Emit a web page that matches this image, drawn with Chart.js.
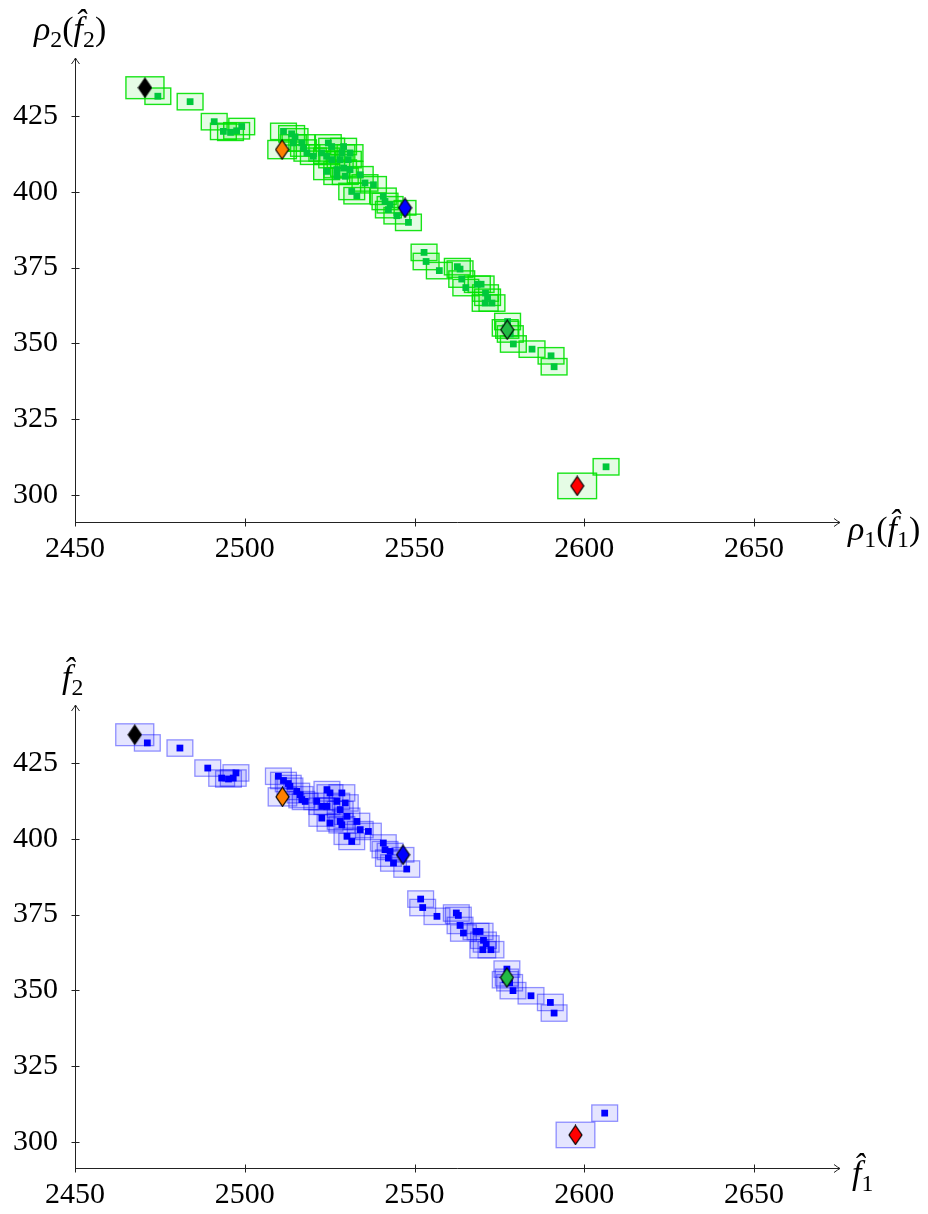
<!DOCTYPE html>
<html><head><meta charset="utf-8">
<script src="https://cdn.jsdelivr.net/npm/chart.js@4/dist/chart.umd.min.js"></script>
<style>
html,body{margin:0;padding:0;background:#fff;}
#wrap{position:relative;width:928px;height:1214px;overflow:hidden;}
canvas{position:absolute;left:0;}
#c1{top:0}
#c2{top:607px}
.lbl{position:absolute;font-family:"Liberation Serif",serif;font-size:34px;color:#000;white-space:nowrap;line-height:1;}
.lbl i{font-style:italic}
.lbl sub{font-size:0.7em;vertical-align:-0.28em;line-height:0}
</style></head>
<body><div id="wrap">
<canvas id="c1" width="928" height="607"></canvas>
<canvas id="c2" width="928" height="607"></canvas>
<div class="lbl" style="left:34px;top:12px"><i>ρ</i><sub>2</sub>(<i>f̂</i><sub>2</sub>)</div>
<div class="lbl" style="left:848px;top:512px"><i>ρ</i><sub>1</sub>(<i>f̂</i><sub>1</sub>)</div>
<div class="lbl" style="left:62px;top:660px"><i>f̂</i><sub>2</sub></div>
<div class="lbl" style="left:852px;top:1156px"><i>f̂</i><sub>1</sub></div>
</div>
<script>
// ---------- data: top chart (rho1(f1), rho2(f2)) ----------
const topX = [2474.4,2483.9,2491.0,2493.7,2495.8,2497.6,2499.1,
  2511.4,2513.8,2514.8,2514.3,2516.8,2517.3,2518.3,2520.2,2522.7,2524.6,2525.6,2529.1,2524.1,2525.6,2528.1,2530.5,2528.6,2531.0,
  2524.1,2527.1,2529.1,2531.0,2527.1,2529.6,2534.0,2535.4,2537.9,2531.5,2533.0,2540.8,2541.3,2542.8,2542.3,2544.8,2548.2,
  2552.8,2553.4,2557.3,2562.6,2563.4,2563.9,2565.1,2568.5,2569.6,2570.9,2571.5,2570.8,2572.8,2577.4,2576.7,2578.2,2579.1,
  2584.6,2590.2,2591.1,2606.4];
const topY = [431.5,429.7,423.1,419.9,419.6,420.1,421.5,
  419.9,419.1,418.1,416.1,416.1,414.4,412.8,411.7,412.8,416.1,414.9,414.9,411.7,410.6,410.6,410.6,412.8,412.8,
  406.7,407.3,407.8,407.3,405.1,405.1,405.6,402.9,402.3,400.1,398.7,398.5,396.8,395.7,394.1,392.1,389.9,
  380.0,377.0,374.0,375.3,374.5,371.2,368.4,369.5,369.5,366.6,365.2,363.3,363.3,357.2,355.1,353.1,349.8,
  348.1,345.9,342.3,309.3];
const topDiamondX = [2470.6,2511.0,2547.2,2577.3,2597.9];
const topDiamondY = [434.3,413.9,394.7,354.5,303.0];

// ---------- data: bottom chart (f1, f2) ----------
const botX = [2471.3,2480.9,2489.1,2493.2,2495.2,2496.6,2497.4,
  2509.9,2511.4,2512.8,2513.3,2515.3,2516.3,2516.8,2517.8,2521.2,2524.2,2525.1,2528.6,2522.7,2524.2,2527.1,2529.6,2528.1,2530.1,
  2522.7,2525.1,2528.1,2528.6,2533.0,2534.0,2536.4,2530.1,2531.5,2540.8,2541.3,2542.8,2542.3,2543.8,2547.7,
  2551.8,2552.4,2556.6,2562.3,2562.9,2563.4,2564.4,2568.1,2569.3,2570.3,2571.1,2570.1,2572.5,2577.2,2576.7,2578.0,2579.0,
  2584.3,2590.0,2591.1,2606.0];
const botY = [431.6,429.9,423.3,420.0,419.7,420.0,421.7,
  420.6,419.2,418.2,417.3,415.6,414.5,412.9,412.3,412.3,416.2,415.1,415.1,410.7,410.7,412.3,411.8,409.6,407.4,
  406.8,405.2,405.7,404.6,405.7,403.0,402.4,400.8,399.1,398.6,396.4,395.8,393.6,392.0,390.0,
  380.1,377.3,374.4,375.5,374.7,371.4,368.9,369.4,369.4,366.5,365.3,363.4,363.4,357.0,353.5,352.5,349.9,
  348.2,346.0,342.5,309.5];
const botDiamondX = [2467.6,2511.1,2546.6,2577.2,2597.4];
const botDiamondY = [434.3,413.8,394.7,354.2,302.3];

// half extents of the uncertainty boxes (data units)
const pointBoxHalfW = 3.8, pointBoxHalfH = 2.7;
const diamondBoxHalfW = [5.6, 4.2, 3.2, 3.4, 5.7];
const diamondBoxHalfH = [3.6, 3.0, 2.4, 2.8, 4.2];

const diamondColors = ['#000000','#ff8000','#0000ff','#22bb44','#ff0000'];
const xTicks = [2450,2500,2550,2600,2650];
const yTicks = [300,325,350,375,400,425];

// ---------- helpers ----------
function diamondImg(color){
  const c = document.createElement('canvas'); c.width = 15; c.height = 21;
  const g = c.getContext('2d');
  g.beginPath(); g.moveTo(7.5,1); g.lineTo(14,10.5); g.lineTo(7.5,20); g.lineTo(1,10.5); g.closePath();
  g.fillStyle = color; g.fill(); g.lineWidth = 1.2; g.strokeStyle = '#000'; g.stroke();
  return c;
}
const diamondImgs = diamondColors.map(diamondImg);

const boxPlugin = {
  id: 'boxes',
  beforeDatasetsDraw(chart, args, o){
    const {ctx} = chart; const xs = chart.scales.x, ys = chart.scales.y;
    ctx.save();
    o.boxes.forEach(b => {
      const x0 = xs.getPixelForValue(b.x - b.hw), x1 = xs.getPixelForValue(b.x + b.hw);
      const y0 = ys.getPixelForValue(b.y + b.hh), y1 = ys.getPixelForValue(b.y - b.hh);
      ctx.fillStyle = o.fill; ctx.fillRect(x0, y0, x1 - x0, y1 - y0);
      ctx.strokeStyle = o.stroke; ctx.lineWidth = o.lw; ctx.strokeRect(x0, y0, x1 - x0, y1 - y0);
    });
    ctx.restore();
  }
};

const axisPlugin = {
  id: 'axesArrows',
  afterDraw(chart){
    const {ctx, chartArea:{left,right,top,bottom}} = chart; const xs = chart.scales.x, ys = chart.scales.y;
    ctx.save(); ctx.strokeStyle = '#222'; ctx.lineWidth = 1;
    const L = Math.round(left) + 0.5, B = Math.round(bottom) + 0.5;
    ctx.beginPath();
    ctx.moveTo(L, B); ctx.lineTo(right, B);
    ctx.moveTo(L, B); ctx.lineTo(L, top);
    xs.ticks.forEach((t,i) => { const p = Math.round(xs.getPixelForTick(i)) + 0.5; ctx.moveTo(p, B - 4); ctx.lineTo(p, B + 4); });
    ys.ticks.forEach((t,i) => { const p = Math.round(ys.getPixelForTick(i)) + 0.5; ctx.moveTo(L - 4, p); ctx.lineTo(L + 4, p); });
    ctx.stroke();
    ctx.beginPath();
    ctx.moveTo(right - 6, B - 4); ctx.quadraticCurveTo(right - 2, B - 1, right, B); ctx.quadraticCurveTo(right - 2, B + 1, right - 6, B + 4);
    ctx.moveTo(L - 4, top + 6); ctx.quadraticCurveTo(L - 1, top + 2, L, top); ctx.quadraticCurveTo(L + 1, top + 2, L + 4, top + 6);
    ctx.stroke();
    ctx.restore();
  }
};

function makeChart(id, xsArr, ysArr, dx, dy, pointColor, boxFill, boxStroke, boxLw, padTop, xScaleH, yMin, yMax){
  const pts = xsArr.map((x,i) => ({x, y: ysArr[i]}));
  const dia = dx.map((x,i) => ({x, y: dy[i]}));
  const boxes = dia.map((p,i) => ({x:p.x, y:p.y, hw:diamondBoxHalfW[i], hh:diamondBoxHalfH[i]}))
    .concat(pts.map(p => ({x:p.x, y:p.y, hw:pointBoxHalfW, hh:pointBoxHalfH})));
  const tickFont = {family:'"Liberation Serif", serif', size:30};
  return new Chart(document.getElementById(id), {
    type: 'scatter',
    data: { datasets: [
      { data: pts, pointStyle: 'rect', pointRadius: 4.8, backgroundColor: pointColor, borderWidth: 0, order: 2 },
      { data: dia, pointStyle: diamondImgs, pointRadius: 8, order: 1 }
    ]},
    options: {
      responsive: false, animation: false, devicePixelRatio: 1,
      events: [],
      layout: { padding: { top: padTop, right: 88, left: 0, bottom: 0 } },
      plugins: { legend: {display:false}, tooltip: {enabled:false},
        boxes: { boxes, fill: boxFill, stroke: boxStroke, lw: boxLw } },
      scales: {
        x: { type:'linear', min: 2450, max: 2675.3,
             afterFit(s){ s.height = xScaleH; },
             afterBuildTicks(s){ s.ticks = xTicks.map(v => ({value:v})); },
             grid: {display:false, drawTicks:false, tickLength:0}, border: {display:false},
             ticks: { font: tickFont, color:'#000', padding: 9, maxRotation:0, autoSkip:false, callback: v => String(v) } },
        y: { type:'linear', min: yMin, max: yMax,
             afterFit(s){ s.width = 75; },
             afterBuildTicks(s){ s.ticks = yTicks.map(v => ({value:v})); },
             grid: {display:false, drawTicks:false, tickLength:0}, border: {display:false},
             ticks: { font: tickFont, color:'#000', padding: 17, autoSkip:false, callback: v => String(v) } }
      }
    },
    plugins: [boxPlugin, axisPlugin]
  });
}

makeChart('c1', topX, topY, topDiamondX, topDiamondY, '#00c83c', 'rgba(0,230,0,0.10)', 'rgba(0,225,0,0.9)', 1.4, 58, 85, 291.1, 444.1);
makeChart('c2', botX, botY, botDiamondX, botDiamondY, '#0000ff', 'rgba(0,0,255,0.10)', 'rgba(0,0,255,0.42)', 1.3, 98, 46, 291.4, 444.1);
</script>
</body></html>
